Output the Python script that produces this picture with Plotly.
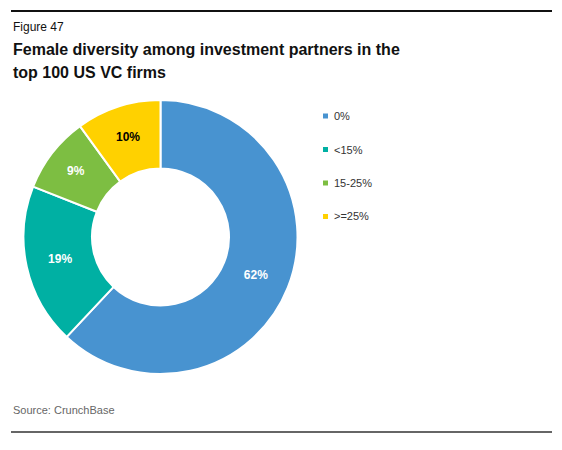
import plotly.graph_objects as go

categories = ["0%", "<15%", "15-25%", ">=25%"]
values = [62, 19, 9, 10]
colors = ["#4893D0", "#00B0A3", "#7DBE42", "#FFD100"]
text_colors = ["white", "white", "white", "black"]
title_lines = ["Female diversity among investment partners in the", "top 100 US VC firms"]

W, H = 562, 450
FONT = "Liberation Sans, Arial, sans-serif"

fig = go.Figure(go.Pie(
    labels=categories,
    values=values,
    hole=0.5,
    sort=False,
    direction="clockwise",
    rotation=0,
    marker=dict(colors=colors, line=dict(color="white", width=2)),
    texttemplate="%{value}%",
    textposition="inside",
    insidetextorientation="horizontal",
    textfont=dict(family=FONT, size=12, color=text_colors, weight="bold"),
    domain=dict(x=[23.5 / W, 297.5 / W], y=[1 - 374 / H, 1 - 100 / H]),
    showlegend=False,
    hoverinfo="label+percent",
))

shapes = [
    dict(type="line", xref="paper", yref="paper", x0=11 / W, x1=552 / W,
         y0=1 - 11 / H, y1=1 - 11 / H, line=dict(color="#111111", width=2)),
    dict(type="line", xref="paper", yref="paper", x0=11 / W, x1=552 / W,
         y0=1 - 432 / H, y1=1 - 432 / H, line=dict(color="#666666", width=2)),
]
annotations = [
    dict(text="Figure 47", x=11 / W, y=1 - 27 / H, xref="paper", yref="paper",
         xanchor="left", yanchor="middle", showarrow=False,
         font=dict(family=FONT, size=12, color="#111111")),
    dict(text="Source: CrunchBase", x=11 / W, y=1 - 410 / H, xref="paper", yref="paper",
         xanchor="left", yanchor="middle", showarrow=False,
         font=dict(family=FONT, size=11, color="#666666")),
]
for i, line in enumerate(title_lines):
    annotations.append(dict(text="<b>" + line + "</b>", x=11 / W, y=1 - (49 + 23 * i) / H,
                            xref="paper", yref="paper", xanchor="left", yanchor="middle",
                            showarrow=False, font=dict(family=FONT, size=16, color="#111111")))

leg_y0, leg_dy = 116, 33.5
for i, (cat, col) in enumerate(zip(categories, colors)):
    yc = leg_y0 + i * leg_dy
    shapes.append(dict(type="rect", xref="paper", yref="paper",
                       x0=323 / W, x1=328 / W, y0=1 - (yc + 2.5) / H, y1=1 - (yc - 2.5) / H,
                       fillcolor=col, line=dict(width=0)))
    annotations.append(dict(text=cat, x=332 / W, y=1 - yc / H, xref="paper", yref="paper",
                            xanchor="left", yanchor="middle", showarrow=False,
                            font=dict(family=FONT, size=11, color="#333333")))

fig.update_layout(
    width=W, height=H,
    margin=dict(l=0, r=0, t=0, b=0),
    paper_bgcolor="white",
    plot_bgcolor="white",
    shapes=shapes,
    annotations=annotations,
)

fig.write_html("out.html", config={"displayModeBar": False},
               post_script="document.body.style.margin='0';")
